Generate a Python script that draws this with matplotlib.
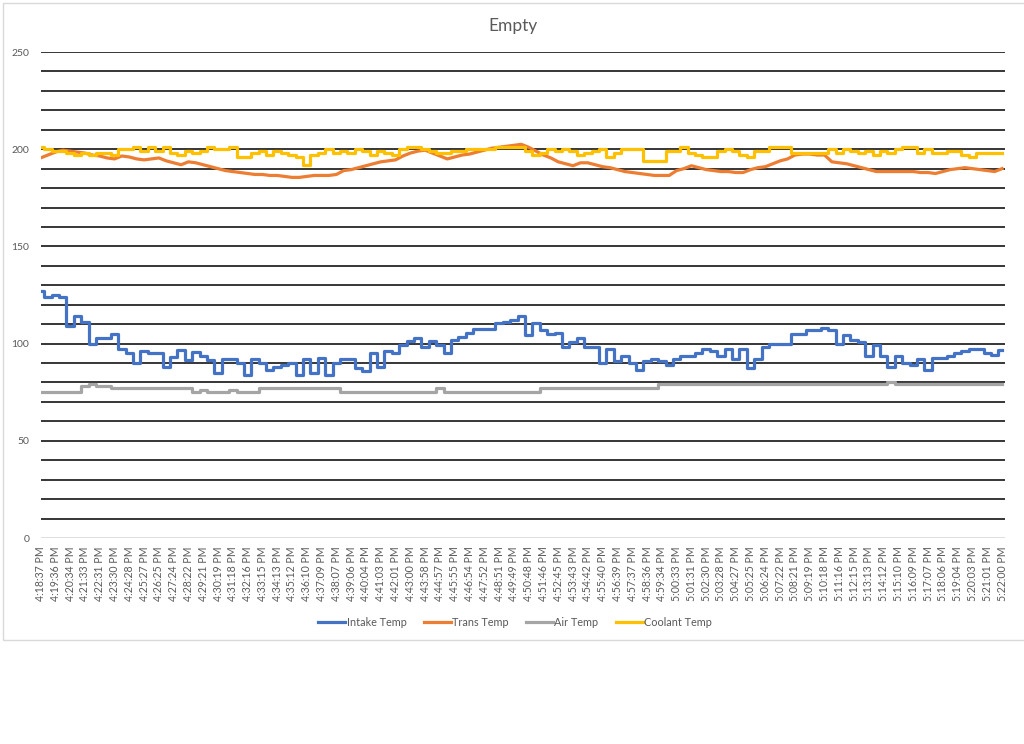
import numpy as np
import matplotlib
matplotlib.use('Agg')
from matplotlib import pyplot as plt
from matplotlib.patches import Rectangle

# etiquetas do eixo x (uma a cada 2 amostras)
TIME_LABELS = ['4:18:37 PM', '4:19:36 PM', '4:20:34 PM', '4:21:33 PM', '4:22:31 PM', '4:23:30 PM',
               '4:24:28 PM', '4:25:27 PM', '4:26:25 PM', '4:27:24 PM', '4:28:22 PM', '4:29:21 PM',
               '4:30:19 PM', '4:31:18 PM', '4:32:16 PM', '4:33:15 PM', '4:34:13 PM', '4:35:12 PM',
               '4:36:10 PM', '4:37:09 PM', '4:38:07 PM', '4:39:06 PM', '4:40:04 PM', '4:41:03 PM',
               '4:42:01 PM', '4:43:00 PM', '4:43:58 PM', '4:44:57 PM', '4:45:55 PM', '4:46:54 PM',
               '4:47:52 PM', '4:48:51 PM', '4:49:49 PM', '4:50:48 PM', '4:51:46 PM', '4:52:45 PM',
               '4:53:43 PM', '4:54:42 PM', '4:55:40 PM', '4:56:39 PM', '4:57:37 PM', '4:58:36 PM',
               '4:59:34 PM', '5:00:33 PM', '5:01:31 PM', '5:02:30 PM', '5:03:28 PM', '5:04:27 PM',
               '5:05:25 PM', '5:06:24 PM', '5:07:22 PM', '5:08:21 PM', '5:09:19 PM', '5:10:18 PM',
               '5:11:16 PM', '5:12:15 PM', '5:13:13 PM', '5:14:12 PM', '5:15:10 PM', '5:16:09 PM',
               '5:17:07 PM', '5:18:06 PM', '5:19:04 PM', '5:20:03 PM', '5:21:01 PM', '5:22:00 PM']

intake = [127, 124, 125, 124, 109, 114, 111, 100, 103, 103, 105, 97, 95, 90, 96, 95, 95, 88, 93, 96.5,
          91.5, 95.5, 93.5, 91.5, 85, 92, 92, 90, 84, 92, 90, 86.5, 88, 89, 90, 84, 92, 85, 92.5,
          84, 90, 92, 92, 87.5, 86, 95, 88, 96, 95, 99.5, 101.5, 103, 98, 101.5, 99.5, 95, 102, 103.5, 105.5,
          107.5, 107.5, 107.5, 110.5, 111, 112, 114, 104.5, 110.5, 107, 105, 105.5, 98, 101, 103, 98, 98.5, 90, 97, 91,
          93.5, 90, 86.5, 91, 92, 91, 89, 92, 93.5, 93.5, 95, 97, 96, 93.5, 97, 92, 97, 87.5, 92, 98.5,
          100, 100, 100, 105, 105, 107, 107, 108, 107, 100, 104.5, 102, 101, 93.5, 99.5, 93.5, 88, 93.5, 90, 89,
          92, 86.5, 92.5, 92.5, 93.5, 95, 96, 97, 97, 95, 94, 96.5]

trans = [195.5, 197, 198.5, 199.5, 199, 198.5, 198, 197, 196.5, 195.5, 195, 196.5, 196, 195, 194.5, 195,
         195.5, 194, 193, 192, 193.5, 193, 192, 191, 190, 189, 188.5, 188, 187.5, 187, 187, 186.5,
         186.5, 186, 185.5, 185.5, 186, 186.5, 186.5, 186.5, 187, 189, 189.5, 190.5, 191.5, 192.5, 193.5, 194,
         194.5, 196.5, 198, 199, 199.5, 198, 196.5, 195, 196, 197, 197.5, 198.5, 199.5, 200.5, 201, 201.5,
         202, 202.5, 201, 199, 197, 195.5, 193.5, 192.5, 191.5, 193, 193, 192, 191, 190.5, 189.5, 188.5,
         188, 187.5, 187, 186.5, 186.5, 186.5, 189, 190, 191.5, 190.5, 189.5, 189, 188.5, 188.5, 188, 188,
         189.5, 190.5, 191, 192.5, 194, 195, 197, 197.5, 197.5, 197, 197, 193.5, 193, 192.5, 191.5, 190.5,
         189.5, 188.5, 188.5, 188.5, 188.5, 188.5, 188.5, 188, 188, 187.5, 188.5, 189.5, 190, 190.5, 190, 189.5,
         189, 188.5, 190]

air = [75, 75, 75, 75, 75, 75, 78, 79, 78, 78, 77, 77, 77, 77, 77, 77, 77, 77, 77, 77,
       77, 75, 76, 75, 75, 75, 76, 75, 75, 75, 77, 77, 77, 77, 77, 77, 77, 77, 77, 77,
       77, 75, 75, 75, 75, 75, 75, 75, 75, 75, 75, 75, 75, 75, 77, 75, 75, 75, 75, 75,
       75, 75, 75, 75, 75, 75, 75, 75, 77, 77, 77, 77, 77, 77, 77, 77, 77, 77, 77, 77,
       77, 77, 77, 77, 79, 79, 79, 79, 79, 79, 79, 79, 79, 79, 79, 79, 79, 79, 79, 79,
       79, 79, 79, 79, 79, 79, 79, 79, 79, 79, 79, 79, 79, 79, 79, 80, 79, 79, 79, 79,
       79, 79, 79, 79, 79, 79, 79, 79, 79, 79, 79]

coolant = [201, 200, 199, 199, 198, 197, 198, 197, 198, 198, 197, 200, 200, 201, 199, 201, 199, 201, 198, 197,
           199, 198, 199, 201, 200, 200, 201, 196, 196, 198, 199, 197, 199, 198, 197, 196, 192, 197, 198, 200,
           198, 199, 198, 200, 199, 197, 199, 198, 197, 200, 201, 201, 200, 199, 198, 198, 199, 199, 200, 200,
           200, 200, 201, 201, 201, 201, 199, 197, 198, 200, 199, 200, 199, 197, 198, 199, 200, 196, 198, 200,
           200, 200, 194, 194, 194, 199, 199, 201, 198, 197, 196, 196, 199, 200, 199, 197, 196, 199, 199, 201,
           201, 201, 198, 198, 198, 198, 198, 200, 198, 200, 199, 198, 199, 197, 199, 198, 200, 201, 201, 198,
           200, 198, 198, 199, 199, 197, 196, 198, 198, 198, 198]

SERIES = ['Intake Temp', 'Trans Temp', 'Air Temp', 'Coolant Temp']
CORES = ['#4472C4', '#ED7D31', '#A5A5A5', '#FFC000']

for s in (intake, trans, air, coolant):
    assert len(s) == 2 * len(TIME_LABELS) - 1, len(s)

TEXTO = '#595959'

fig = plt.figure(figsize=(10.24, 7.44), dpi=100)
fig.patch.set_facecolor('white')

# borda da area do grafico (print da planilha)
fig.patches.append(Rectangle((3 / 1024, 1 - 640 / 744), 1, 637 / 744, transform=fig.transFigure,
                             fill=False, edgecolor='#d9d9d9', linewidth=1))

ax = fig.add_axes([40.5 / 1024, 1 - 538 / 744, (1005 - 40.5) / 1024, (538 - 52) / 744])

x = np.arange(len(intake))
dados = [intake, trans, air, coolant]
for nome, serie, cor in zip(SERIES, dados, CORES):
    estilo = 'default' if nome == 'Trans Temp' else 'steps-mid'
    ax.plot(x, serie, color=cor, linewidth=2.3, label=nome, drawstyle=estilo, zorder=3)

ax.set_ylim(0, 250)
ax.set_xlim(0, len(intake) - 1 + 0.4)

# grade a cada 10, rotulos a cada 50
for v in range(10, 251, 10):
    ax.axhline(v, color='black', linewidth=1.1, zorder=1)
ax.axhline(0, color='#d9d9d9', linewidth=1.2, zorder=1)

ax.set_yticks(range(0, 251, 50))
ax.set_xticks(x[::2])
ax.set_xticklabels(TIME_LABELS, rotation=90, fontsize=7.6, color=TEXTO, family='Lato')
for lab in ax.get_yticklabels():
    lab.set_fontsize(7.5)
    lab.set_color(TEXTO)
    lab.set_family('Lato')
ax.tick_params(length=0, pad=6)
ax.tick_params(axis='y', pad=8)
for sp in ax.spines.values():
    sp.set_visible(False)

fig.text(513 / 1024, 1 - 26 / 744, 'Empty', ha='center', va='center', fontsize=12.5,
         color=TEXTO, family='Lato')

fig.legend(loc='center', bbox_to_anchor=(515 / 1024, 1 - 622 / 744), ncol=4, frameon=False,
           handlelength=2.5, handletextpad=0.1, columnspacing=1.6,
           prop={'family': 'Lato', 'size': 7.8}, labelcolor=TEXTO)

fig.savefig('out.png', dpi=100)
